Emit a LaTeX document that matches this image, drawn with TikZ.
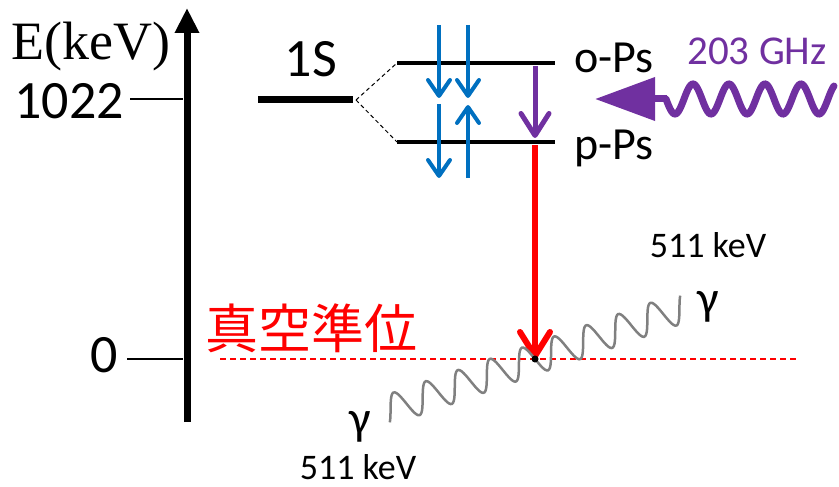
\documentclass[tikz,border=0pt]{standalone}
\usepackage{fontspec}
\setmainfont{Carlito}
\newfontfamily\serifface{Liberation Serif}
\newfontfamily\cjk{Noto Sans CJK JP}
\usetikzlibrary{arrows.meta}
\definecolor{spinblue}{HTML}{0070C0}
\definecolor{mwpurple}{HTML}{7030A0}
\definecolor{gammagray}{HTML}{808080}
\tikzset{txt/.style={inner sep=0pt,anchor=base},big/.style={font=\fontsize{54}{60}\selectfont},mid/.style={font=\fontsize{46}{50}\selectfont},small/.style={font=\fontsize{36}{40}\selectfont},level/.style={line width=3.5pt},tick/.style={line width=1.5pt},spin/.style={spinblue,line width=4pt,-{Straight Barb[length=16pt,width=22pt,round]}},photon/.style={gammagray,line width=2.5pt}}

\begin{document}
\begin{tikzpicture}[x=1pt,y=-1pt]
\useasboundingbox (0,0) rectangle (839,487);
% energy axis
\coordinate (axb) at (187,422);
\coordinate (axt) at (187,8);
\draw[line width=7pt,-{Triangle[length=25pt,width=23pt]}] (axb) -- (axt);
\node[txt,big] (eunit) at (91,60) {\serifface E(keV)};
\node[txt,big] (k1022) at (69,118) {1022};
\node[txt,big] (k0) at (104,372) {0};
\draw[tick] (130,99) -- (183,99);
\draw[tick] (127,359) -- (183,359);
% levels
\coordinate (s1l) at (258,100);
\coordinate (s1r) at (353,100);
\coordinate (opl) at (397,63);
\coordinate (opr) at (555,63);
\coordinate (ppl) at (397,142);
\coordinate (ppr) at (555,142);
\draw[line width=7pt] (s1l) -- (s1r);
\draw[level] (opl) -- (opr);
\draw[level] (ppl) -- (ppr);
\draw[line width=1pt,dash pattern=on 4pt off 3pt] (356,100) -- (opl);
\draw[line width=1pt,dash pattern=on 4pt off 3pt] (356,100) -- (ppl);
\node[txt,big] (s1) at (311,77) {1S};
\node[txt,mid,anchor=base west] (ops) at (574,73) {o-Ps};
\node[txt,mid,anchor=base west] (pps) at (574,160) {p-Ps};
% spins
\draw[spin] (439,25) -- (439,98);
\draw[spin] (468,25) -- (468,98);
\draw[spin] (439,104) -- (439,178);
\draw[spin] (468,178) -- (468,105);
% microwave transition
\draw[mwpurple,line width=5pt,-{Straight Barb[length=22pt,width=28pt,round]}] (535,66) -- (535,138);
\coordinate (mwst) at (667,99);
\coordinate (mwtip) at (595,99);
\draw[mwpurple,line width=7pt,-{Triangle[length=60pt,width=42pt]}] (mwst) -- (mwtip);
\draw[mwpurple,line width=7pt,line cap=round] plot[domain=0:168,samples=150] ({666+\x},{99+15*sin(10*\x)});
\node[txt,font=\fontsize{41}{45}\selectfont,text=mwpurple] (ghz) at (757,65) {203 GHz};
% annihilation
\coordinate (dot) at (535,359);
\draw[red,line width=1.2pt,dash pattern=on 6pt off 4pt] (220,359) -- (797,359);
\draw[red,line width=6pt,-{Straight Barb[length=24pt,width=30pt,round]}] (535,145) -- (dot);
\draw[photon] plot[domain=-158:158,samples=240] ({535+0.944*\x+4.94*sin(10.588*\x)},{359-0.3295*\x+14.16*sin(10.588*\x)});
\fill (dot) circle (3.5);
\node[txt,font=\cjk\fontsize{53}{58}\selectfont,text=red] (vac) at (311,348) {真空準位};
\node[txt,font=\fontsize{48}{52}\selectfont] (ga) at (708,314) {γ};
\node[txt,font=\fontsize{48}{52}\selectfont] (gb) at (360,434) {γ};
\node[txt,small] (ea) at (708,257) {511 keV};
\node[txt,small] (eb) at (358,479) {511 keV};
\end{tikzpicture}
\end{document}
